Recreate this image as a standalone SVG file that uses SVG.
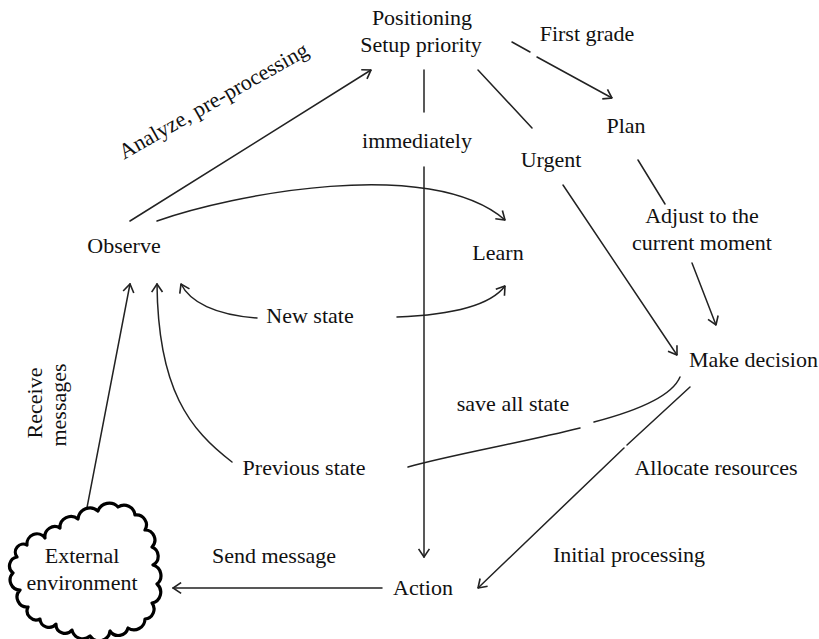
<svg xmlns="http://www.w3.org/2000/svg" width="819" height="639" viewBox="0 0 819 639">
<style>
text{font-family:"Liberation Serif","Times New Roman",serif;font-size:22px;fill:#111}
.m{text-anchor:middle}
.c{fill:none;stroke:#222;stroke-width:1.5;stroke-linecap:round}
.a{marker-end:url(#ah)}
.cloud{fill:#fff;stroke:#000;stroke-width:3.2;stroke-linejoin:round}
</style>
<defs>
<marker id="ah" viewBox="0 0 10 12" refX="9.5" refY="6" markerWidth="11" markerHeight="13" markerUnits="userSpaceOnUse" orient="auto">
<path d="M2,1 L9.5,6 L2,11" fill="none" stroke="#222" stroke-width="1.5"/>
</marker>
</defs>
<rect width="819" height="639" fill="#fff"/>
<g id="connectors">
<path class="c a" d="M130,221 L371,70"/>
<path class="c a" d="M157,221 C230,195 430,155 505,220"/>
<path class="c" d="M424,70 L424,112"/>
<path class="c a" d="M424,167 L424,557"/>
<path class="c" d="M478,70 L532,128"/>
<path class="c" d="M512,42 L530,52"/>
<path class="c a" d="M537,57 L612,98"/>
<path class="c" d="M638,160 L665,204"/>
<path class="c a" d="M692,263 L716,325"/>
<path class="c a" d="M563,185 L677,355"/>
<path class="c" d="M680,377 C672,396 640,410 594,422"/>
<path class="c" d="M580,428 C520,443 450,455 408,467"/>
<path class="c" d="M690,387 L627,445"/>
<path class="c a" d="M624,448 L478,588"/>
<path class="c a" d="M257,318 C215,315 190,302 181,284"/>
<path class="c a" d="M397,317 C450,315 490,306 505,286"/>
<path class="c a" d="M232,462 C190,430 158,390 157,284"/>
<path class="c a" d="M85,518 L130,284"/>
<path class="c a" d="M382,588 L173,588"/>
</g>
<g id="positioning">
<text class="m" x="422" y="25">Positioning</text>
<text class="m" x="421" y="52">Setup priority</text>
</g>
<g id="first-grade"><text class="m" x="587" y="41">First grade</text></g>
<g id="analyze"><text class="m" x="217" y="107" transform="rotate(-29.5 217 107)">Analyze, pre-processing</text></g>
<g id="immediately"><text class="m" x="417" y="148">immediately</text></g>
<g id="urgent"><text class="m" x="551" y="167">Urgent</text></g>
<g id="plan"><text class="m" x="626" y="133">Plan</text></g>
<g id="adjust">
<text class="m" x="702" y="223">Adjust to the</text>
<text class="m" x="702" y="250">current moment</text>
</g>
<g id="observe"><text class="m" x="124" y="253">Observe</text></g>
<g id="learn"><text class="m" x="498" y="260">Learn</text></g>
<g id="new-state"><text class="m" x="310" y="323">New state</text></g>
<g id="make-decision"><text x="689" y="367">Make decision</text></g>
<g id="save-all-state"><text class="m" x="513" y="411">save all state</text></g>
<g id="previous-state"><text class="m" x="304" y="475">Previous state</text></g>
<g id="allocate"><text class="m" x="716" y="475">Allocate resources</text></g>
<g id="initial"><text class="m" x="629" y="562">Initial processing</text></g>
<g id="send-message"><text class="m" x="274" y="563">Send message</text></g>
<g id="action"><text class="m" x="423" y="595">Action</text></g>
<g id="receive">
<text class="m" x="42" y="403" transform="rotate(-90 42 403)">Receive</text>
<text class="m" x="66" y="405" transform="rotate(-90 66 405)">messages</text>
</g>
<g id="external-environment">
<path class="cloud" d="M17,557 A8,8 0 0 1 27,545 A10,10 0 0 1 45,538 A10,10 0 0 1 60,528 A11,11 0 0 1 78,519 A12,12 0 0 1 98,511 A12,12 0 0 1 118,507 A11,11 0 0 1 135,515 A10,10 0 0 1 145,530 A10,10 0 0 1 152,547 A10,10 0 0 1 153,565 A11,11 0 0 1 157,584 A11,11 0 0 1 152,603 A10,10 0 0 1 145,619 A11,11 0 0 1 128,628 A10,10 0 0 1 110,631 A11,11 0 0 1 90,636 A11,11 0 0 1 72,630 A9,9 0 0 1 56,624 A9,9 0 0 1 40,619 A9,9 0 0 1 28,607 A10,10 0 0 1 20,590 A10,10 0 0 1 13,573 A9,9 0 0 1 17,557 Z"/>
<text class="m" x="82" y="563">External</text>
<text class="m" x="82" y="590">environment</text>
</g>
</svg>
